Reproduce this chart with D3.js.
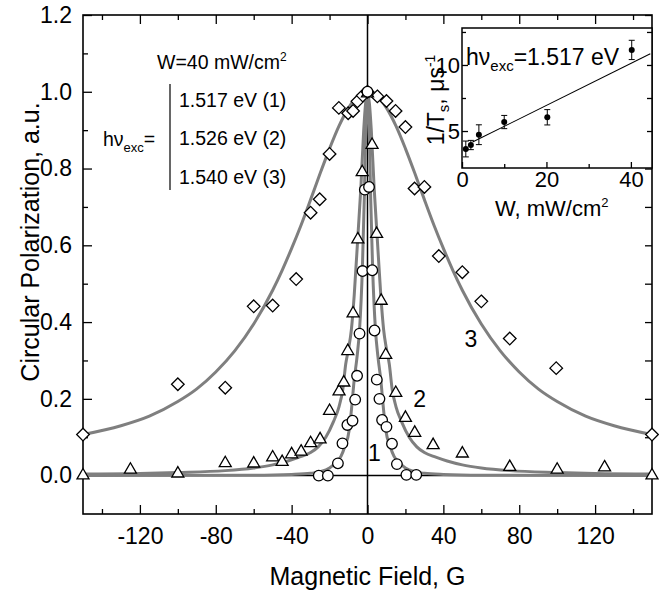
<!DOCTYPE html>
<html><head><meta charset="utf-8">
<script src="https://cdn.jsdelivr.net/npm/d3@7"></script>
<style>
body{margin:0;background:#fff}
svg{display:block}
text{font-family:"Liberation Sans",Arial,Helvetica,sans-serif;fill:#000}
</style>
</head><body>
<svg id="chart" width="659" height="591"></svg>
<script>
// ---------- main data ----------
const circleB = [-25.7,-20.9,-15.6,-13.2,-10.6,-7.9,-6.5,-5.5,-4.2,-2.6,-1.4,0,0.8,2.5,3.7,4.9,6.3,7.7,10.0,12.9,15.5,20.5,25.7];
const circleP = [0.0,0.0,0.032,0.084,0.132,0.143,0.198,0.26,0.37,0.533,0.745,1.0,0.752,0.535,0.378,0.25,0.2,0.145,0.127,0.083,0.03,0.002,0.002];

const triangleB = [-150,-125,-100,-75,-60,-50,-45,-40,-35,-30,-25,-20,-15,-12.5,-10.4,-7.6,-5.1,-2.8,0,2.4,4.8,7.2,9.6,14.9,20,24.9,34.6,50,75,100,125,150];
const triangleP = [0.005,0.02,0.01,0.037,0.036,0.052,0.04,0.06,0.067,0.089,0.099,0.173,0.224,0.247,0.329,0.427,0.62,0.795,1.0,0.866,0.634,0.46,0.319,0.22,0.155,0.116,0.084,0.062,0.027,0.02,0.026,0.005];

const diamondB = [-150,-100,-75,-60,-50,-37.6,-30,-25.2,-20,-15.1,-10.2,-7.6,-5.3,-2.5,0,5.2,10,14.8,20,24.8,30,37.6,50,60,75,99.5,150];
const diamondP = [0.107,0.238,0.229,0.441,0.443,0.512,0.685,0.72,0.838,0.958,0.944,0.95,0.975,0.99,1.0,0.988,0.976,0.95,0.908,0.748,0.752,0.572,0.53,0.454,0.357,0.28,0.107];

// fitted curves
const curve1B = [-150,-60,-40,-30,-25,-20,-17,-14,-12,-9.6,-8.5,-7,-5.5,-4.2,-2.7,-1.7,-1,0,1,1.7,2.7,4.2,5.5,7,8.5,9.6,12,14,17,20,25,30,40,60,150];
const curve1P = [0.0,0.001,0.003,0.006,0.01,0.02,0.033,0.05,0.075,0.12,0.17,0.25,0.31,0.38,0.54,0.72,0.88,1.0,0.88,0.72,0.54,0.38,0.31,0.25,0.17,0.12,0.075,0.05,0.033,0.02,0.01,0.006,0.003,0.001,0.0];

const curve2B = [-150,-125,-100,-75,-60,-50,-42,-36,-30,-26,-22,-18,-15,-13,-11.5,-10,-8.5,-7,-5,-3.5,-2,-1,0,1,2,3.5,5,7,8.5,10,11.5,13,15,18,22,26,30,36,42,50,60,75,100,125,150];
const curve2P = [0.004,0.005,0.008,0.013,0.02,0.028,0.038,0.048,0.06,0.075,0.1,0.14,0.18,0.225,0.29,0.33,0.38,0.47,0.63,0.75,0.9,0.97,1.0,0.97,0.9,0.75,0.63,0.47,0.38,0.33,0.29,0.225,0.18,0.14,0.1,0.075,0.06,0.048,0.038,0.028,0.02,0.013,0.008,0.005,0.004];

const curve3B = [-150,-130,-115,-100,-90,-80,-70,-60,-50,-45,-40,-35,-30,-25,-20,-15,-10,-5,0,5,10,15,20,25,30,35,40,45,50,60,70,80,90,100,115,130,150];
const curve3P = [0.107,0.13,0.155,0.193,0.226,0.27,0.325,0.395,0.483,0.535,0.592,0.653,0.719,0.787,0.852,0.911,0.958,0.99,1.0,0.99,0.958,0.911,0.852,0.787,0.719,0.653,0.592,0.535,0.483,0.395,0.325,0.27,0.226,0.193,0.155,0.13,0.107];

const xMajor = [-120,-80,-40,0,40,80,120];
const xMinor = [-140,-100,-60,-20,20,60,100,140];
const yMajor = [0,0.2,0.4,0.6,0.8,1.0,1.2];
const yMinor = [0.1,0.3,0.5,0.7,0.9,1.1];

const curveLabels = ["1","2","3"];
const curveLabelB = [3.7,27.5,54.5];
const curveLabelP = [0.06,0.2,0.356];

const energies = ["1.517 eV (1)","1.526 eV (2)","1.540 eV (3)"];

// ---------- inset data ----------
const insetW = [0.9,2.1,4,10,20.2,40.2];
const insetRate = [3.64,3.94,4.72,5.68,6.04,11.14];
const insetErr = [0.6,0.35,0.75,0.5,0.58,0.73];
const fitW = [2.5,44.6];
const fitRate = [4.16,10.85];
const insetXMajor = [0,20,40];
const insetXMinor = [10,30];
const insetYMajor = [5,10];
const insetYMinor = [7.5,12.5];

// ---------- drawing ----------
const svg = d3.select("#chart");
const L=83, R=652, T=15, B=514;
const x = d3.scaleLinear().domain([-150,150]).range([L,R]);
const y = d3.scaleLinear().domain([-0.1,1.2]).range([B,T]);
const gray = "#7f7f7f";
const TICKF = 23, TITLEF = 25, LEGF = 19.5, INF = 22;
const FF = "Liberation Sans, Arial, sans-serif";

// zero lines
svg.append("line").attr("x1",x(-150)).attr("x2",x(150)).attr("y1",y(0)).attr("y2",y(0)).attr("stroke","#000").attr("stroke-width",1.5);
svg.append("line").attr("x1",x(0)).attr("x2",x(0)).attr("y1",y(-0.1)).attr("y2",y(1.2)).attr("stroke","#000").attr("stroke-width",1.5);

// axes (ticks inside)
function styleAxis(g){ g.select(".domain").remove(); g.selectAll(".tick line").attr("stroke","#000").attr("stroke-width",1.3); }
svg.append("g").attr("transform",`translate(0,${B})`)
  .call(d3.axisBottom(x).tickValues(xMajor).tickSize(-9).tickPadding(14).tickFormat(d=>String(d)))
  .call(styleAxis).call(g=>g.selectAll("text").attr("font-size",TICKF).attr("font-family",FF));
svg.append("g").attr("transform",`translate(0,${B})`).call(d3.axisBottom(x).tickValues(xMinor).tickSize(-5).tickFormat("")).call(styleAxis);
svg.append("g").attr("transform",`translate(0,${T})`).call(d3.axisTop(x).tickValues(xMajor).tickSize(-9).tickFormat("")).call(styleAxis);
svg.append("g").attr("transform",`translate(0,${T})`).call(d3.axisTop(x).tickValues(xMinor).tickSize(-5).tickFormat("")).call(styleAxis);

svg.append("g").attr("transform",`translate(${L},0)`)
  .call(d3.axisLeft(y).tickValues(yMajor).tickSize(-9).tickPadding(11).tickFormat(d3.format(".1f")))
  .call(styleAxis).call(g=>g.selectAll("text").attr("font-size",TICKF).attr("font-family",FF));
svg.append("g").attr("transform",`translate(${L},0)`).call(d3.axisLeft(y).tickValues(yMinor).tickSize(-5).tickFormat("")).call(styleAxis);
svg.append("g").attr("transform",`translate(${R},0)`).call(d3.axisRight(y).tickValues(yMajor).tickSize(-7).tickFormat("")).call(styleAxis);
svg.append("g").attr("transform",`translate(${R},0)`).call(d3.axisRight(y).tickValues(yMinor).tickSize(-7).tickFormat("")).call(styleAxis);

// frame
svg.append("rect").attr("x",L).attr("y",T).attr("width",R-L).attr("height",B-T).attr("fill","none").attr("stroke","#000").attr("stroke-width",1.6);

// curves
const line = d3.line().x(d=>x(d[0])).y(d=>y(d[1])).curve(d3.curveMonotoneX);
[[curve3B,curve3P],[curve2B,curve2P],[curve1B,curve1P]].forEach(([bs,ps])=>{
  svg.append("path").datum(bs.map((b,i)=>[b,ps[i]])).attr("d",line)
    .attr("fill","none").attr("stroke",gray).attr("stroke-width",3);
});

// markers
const mk = svg.append("g").attr("fill","#fff").attr("stroke","#000").attr("stroke-width",1.3);
diamondB.forEach((b,i)=>{
  const cx=x(b), cy=y(diamondP[i]), s=6.3;
  mk.append("path").attr("d",`M${cx},${cy-s}L${cx+s},${cy}L${cx},${cy+s}L${cx-s},${cy}Z`);
});
triangleB.forEach((b,i)=>{
  const cx=x(b), cy=y(triangleP[i]), w=6, h=5.2;
  mk.append("path").attr("d",`M${cx},${cy-h}L${cx+w},${cy+h}L${cx-w},${cy+h}Z`);
});
circleB.forEach((b,i)=>{
  mk.append("circle").attr("cx",x(b)).attr("cy",y(circleP[i])).attr("r",5.3);
});

// curve labels
curveLabels.forEach((t,i)=>{
  svg.append("text").attr("x",x(curveLabelB[i])).attr("y",y(curveLabelP[i])).attr("dy","0.35em")
    .attr("text-anchor","middle").attr("font-size",TICKF).text(t);
});

// legend text
svg.append("text").attr("x",157).attr("y",69).attr("font-size",LEGF)
  .call(t=>{t.append("tspan").text("W=40 mW/cm"); t.append("tspan").attr("font-size",12).attr("dy",-8).text("2");});
const hv = svg.append("text").attr("x",103).attr("y",146).attr("font-size",LEGF);
hv.append("tspan").text("hν");
hv.append("tspan").attr("font-size",13).attr("dy",6).text("exc");
hv.append("tspan").attr("dy",-6).text("=");
svg.append("line").attr("x1",170).attr("x2",170).attr("y1",84).attr("y2",190).attr("stroke","#000").attr("stroke-width",1.2);
energies.forEach((e,i)=>{
  svg.append("text").attr("x",179).attr("y",100+i*38.5).attr("dy","0.35em").attr("font-size",LEGF).text(e);
});

// axis titles
svg.append("text").attr("x",(L+R)/2).attr("y",585).attr("text-anchor","middle").attr("font-size",TITLEF).text("Magnetic Field, G");
svg.append("text").attr("transform","translate(39,242) rotate(-90)").attr("text-anchor","middle").attr("font-size",TITLEF).text("Circular Polarization, a.u.");

// ---------- inset ----------
const iL=462, iR=652, iT=28, iB=168;
const ix = d3.scaleLinear().domain([0,45]).range([iL,iR]);
const iy = d3.scaleLinear().domain([2.2,12.8]).range([iB,iT]);
svg.append("rect").attr("x",iL).attr("y",iT).attr("width",iR-iL).attr("height",iB-iT).attr("fill","#fff");
svg.append("g").attr("transform",`translate(0,${iB})`)
  .call(d3.axisBottom(ix).tickValues(insetXMajor).tickSize(-6).tickPadding(3).tickFormat(d=>String(d)))
  .call(styleAxis).call(g=>g.selectAll("text").attr("font-size",INF).attr("font-family",FF));
svg.append("g").attr("transform",`translate(0,${iB})`).call(d3.axisBottom(ix).tickValues(insetXMinor).tickSize(-4).tickFormat("")).call(styleAxis);
svg.append("g").attr("transform",`translate(${iL},0)`)
  .call(d3.axisLeft(iy).tickValues(insetYMajor).tickSize(-6).tickPadding(2).tickFormat(d=>String(d)))
  .call(styleAxis).call(g=>g.selectAll("text").attr("font-size",INF).attr("font-family",FF));
svg.append("g").attr("transform",`translate(${iL},0)`).call(d3.axisLeft(iy).tickValues(insetYMinor).tickSize(-4).tickFormat("")).call(styleAxis);
svg.append("g").attr("transform",`translate(${iR},0)`).call(d3.axisRight(iy).tickValues(insetYMajor.concat(insetYMinor)).tickSize(-5).tickFormat("")).call(styleAxis);
svg.append("rect").attr("x",iL).attr("y",iT).attr("width",iR-iL).attr("height",iB-iT).attr("fill","none").attr("stroke","#000").attr("stroke-width",1.5);

svg.append("line").attr("x1",ix(fitW[0])).attr("y1",iy(fitRate[0])).attr("x2",ix(fitW[1])).attr("y2",iy(fitRate[1])).attr("stroke","#000").attr("stroke-width",1.1);
insetW.forEach((w,i)=>{
  const cx=ix(w), y1=iy(insetRate[i]-insetErr[i]), y2=iy(insetRate[i]+insetErr[i]);
  svg.append("line").attr("x1",cx).attr("x2",cx).attr("y1",y1).attr("y2",y2).attr("stroke","#000").attr("stroke-width",1);
  svg.append("line").attr("x1",cx-3).attr("x2",cx+3).attr("y1",y1).attr("y2",y1).attr("stroke","#000").attr("stroke-width",1);
  svg.append("line").attr("x1",cx-3).attr("x2",cx+3).attr("y1",y2).attr("y2",y2).attr("stroke","#000").attr("stroke-width",1);
  svg.append("circle").attr("cx",cx).attr("cy",iy(insetRate[i])).attr("r",3).attr("fill","#000");
});
const it = svg.append("text").attr("x",466).attr("y",65).attr("font-size",23);
it.append("tspan").text("hν");
it.append("tspan").attr("font-size",15).attr("dy",6).text("exc");
it.append("tspan").attr("dy",-6).text("=1.517 eV");
svg.append("text").attr("x",495).attr("y",216).attr("font-size",22)
  .call(t=>{t.append("tspan").text("W, mW/cm"); t.append("tspan").attr("font-size",13).attr("dy",-9).text("2");});
const yl = svg.append("text").attr("transform","translate(444,100) rotate(-90)").attr("text-anchor","middle").attr("font-size",23);
yl.append("tspan").text("1/T");
yl.append("tspan").attr("font-size",15).attr("dy",5).text("s");
yl.append("tspan").attr("dy",-5).text(",  μs");
yl.append("tspan").attr("font-size",14).attr("dy",-9).text("-1");
</script>
</body></html>
